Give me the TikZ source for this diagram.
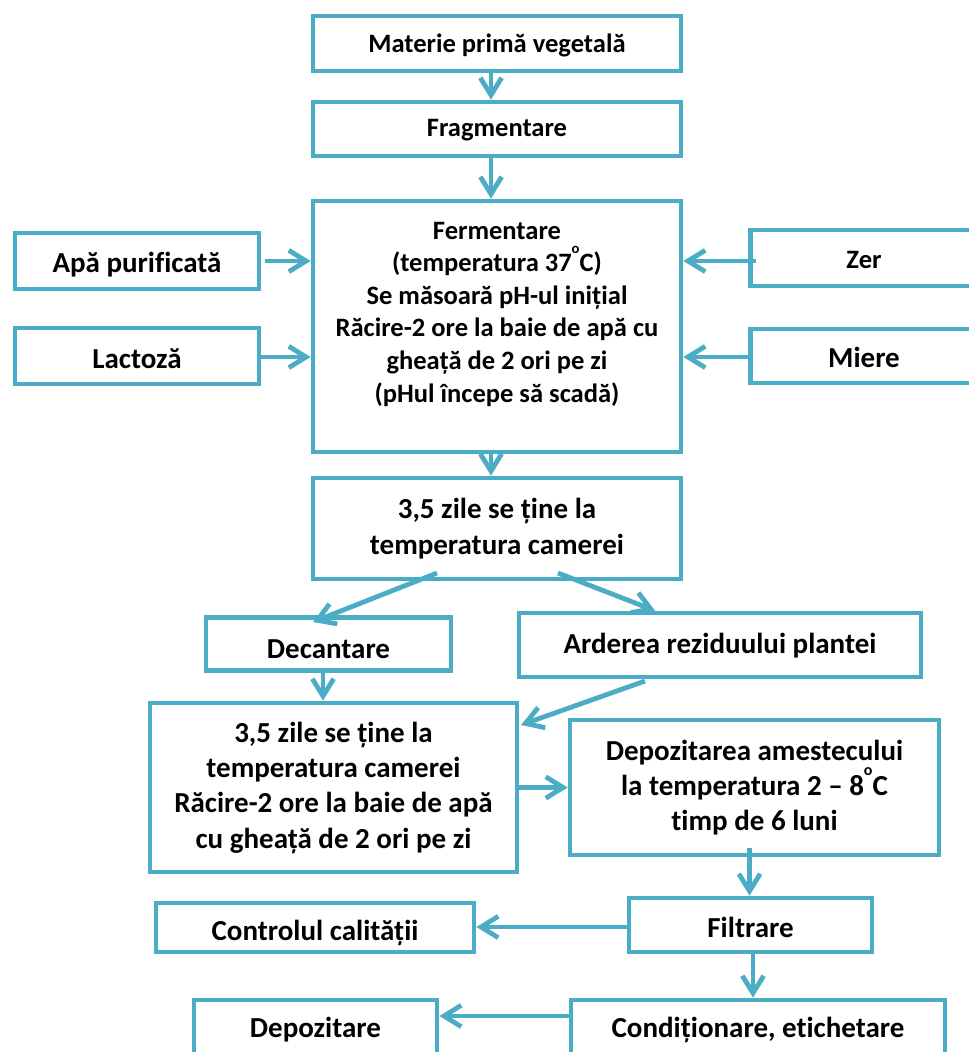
\documentclass[tikz,border=0pt]{standalone}
\usepackage{fontspec}
\setmainfont{Carlito}[Ligatures=NoCommon]
\usetikzlibrary{arrows.meta,calc}
\definecolor{bx}{HTML}{4BACC6}
\newcommand{\Lg}{\fontsize{21.75pt}{26.5pt}\selectfont\bfseries}
\newcommand{\Sm}{\fontsize{19.9pt}{24.45pt}\selectfont\bfseries}
\newcommand{\supo}[1]{\raisebox{0.7em}[0pt][0pt]{\fontsize{#1}{#1}\selectfont o}}
\tikzset{
  box/.style={draw=bx, line width=3.5pt, rectangle, inner sep=0pt, align=center, font=\Lg},
  sbox/.style={box, font=\Sm},
  txt/.style={inner sep=0pt, align=center, font=\Sm},
  arr/.style={draw=bx, line width=3.6pt, -{Straight Barb[length=13pt,width=16pt]}},
}
\begin{document}
\begin{tikzpicture}[x=0.75pt,y=-0.75pt]
\useasboundingbox (0,0) rectangle (968,1052);
% boxes
\node[sbox, minimum width=276pt, minimum height=41.25pt, text height=13.5pt, text depth=0pt] (mat) at (497,43.5) {Materie primă vegetală};
\node[sbox, minimum width=276pt, minimum height=40.5pt, text height=11.5pt, text depth=0pt] (frag) at (497,129) {Fragmentare};
\node[box, minimum width=276pt, minimum height=188.25pt] (ferm) at (497,326.5) {};
\node[txt] (fermt) at ($(ferm.center)+(0,-12.5)$) {Fermentare\\(temperatura 37\supo{11pt}C)\\Se măsoară pH-ul inițial\\Răcire-2 ore la baie de apă cu\\gheață de 2 ori pe zi\\(pHul începe să scadă)};
\node[box, minimum width=183pt, minimum height=42pt, text height=17.5pt, text depth=0pt] (apa) at (137,261) {Apă purificată};
\node[box, minimum width=183pt, minimum height=42pt, text height=18pt, text depth=0pt] (lac) at (137,356) {Lactoză};
\node[sbox, minimum width=170.25pt, minimum height=42pt, text height=15pt, text depth=0pt] (zer) at (864,258) {Zer};
\node[box, minimum width=170.25pt, minimum height=40.5pt, text height=16.5pt, text depth=0pt] (miere) at (864,356) {Miere};
\node[box, minimum width=276pt, minimum height=75.75pt] (z1) at (497,528.5) {3,5 zile se ține la\\temperatura camerei};
\node[box, minimum width=183.75pt, minimum height=39.75pt, text height=21pt, text depth=0pt] (dec) at (328.5,644) {Decantare};
\node[box, minimum width=301.5pt, minimum height=48pt, text height=12pt, text depth=0pt] (ard) at (720,645) {Arderea reziduului plantei};
\node[box, minimum width=275.25pt, minimum height=126.75pt] (z2) at (333.5,787.5) {3,5 zile se ține la\\temperatura camerei\\Răcire-2 ore la baie de apă\\cu gheață de 2 ori pe zi};
\node[box, minimum width=276.75pt, minimum height=101.25pt] (depam) at (754.5,787.5) {Depozitarea amestecului\\la temperatura 2 – 8\supo{12pt}C\\timp de 6 luni};
\node[box, minimum width=182.25pt, minimum height=40.5pt, text height=18pt, text depth=0pt] (filt) at (750.5,925) {Filtrare};
\node[box, minimum width=238.5pt, minimum height=36.75pt, text height=18.75pt, text depth=0pt] (ctrl) at (315,927.5) {Controlul calității};
\node[box, minimum width=280.5pt, minimum height=48pt, text height=7.5pt, text depth=0pt] (cond) at (758,1032) {Condiționare, etichetare};
\node[box, minimum width=182.25pt, minimum height=48pt, text height=7.5pt, text depth=0pt] (depoz) at (315.5,1032) {Depozitare};
% connectors
\draw[arr] ($(mat.south)+(-6,0)$) -- ($(frag.north)+(-6,0)$);
\draw[arr] ($(frag.south)+(-6,0)$) -- ($(ferm.north)+(-6,0)$);
\draw[arr] ($(ferm.south)+(-6,0)$) -- ($(z1.north)+(-6,0)$);
\coordinate (apaA) at ($(apa.east)+(4,0)$);
\draw[arr] (apaA) -- (apaA -| ferm.west);
\coordinate (lacA) at ($(lac.east)+(0,1)$);
\draw[arr] (lacA) -- (lacA -| ferm.west);
\coordinate (zerA) at ($(zer.west)+(8,3)$);
\draw[arr] (zerA) -- (zerA -| ferm.east);
\coordinate (miA) at ($(miere.west)+(0,1)$);
\draw[arr] (miA) -- (miA -| ferm.east);
\draw[arr] ($(z1.south)+(-60,-8.3)$) -- ($(dec.north)+(-15.5,6.8)$);
\draw[arr] ($(z1.south)+(61,-8.3)$) -- ($(ard.north)+(-65,0)$);
\coordinate (decA) at ($(dec.south)+(-5.5,0)$);
\draw[arr] (decA) -- (decA |- z2.north);
\draw[arr] ($(ard.south)+(-75,1.7)$) -- ($(z2.north east)+(1.7,24.3)$);
\coordinate (z2A) at (z2.east);
\draw[arr] (z2A) -- (z2A -| depam.west);
\coordinate (depA) at ($(depam.south)+(-5,-9)$);
\draw[arr] (depA) -- (depA |- filt.north);
\coordinate (filA) at ($(filt.west)+(0,2)$);
\draw[arr] (filA) -- (filA -| ctrl.east);
\coordinate (filB) at ($(filt.south)+(2.5,0)$);
\draw[arr] (filB) -- (filB |- cond.north);
\coordinate (conA) at ($(cond.west)+(0,-16)$);
\draw[arr] (conA) -- (conA -| depoz.east);
\end{tikzpicture}
\end{document}
